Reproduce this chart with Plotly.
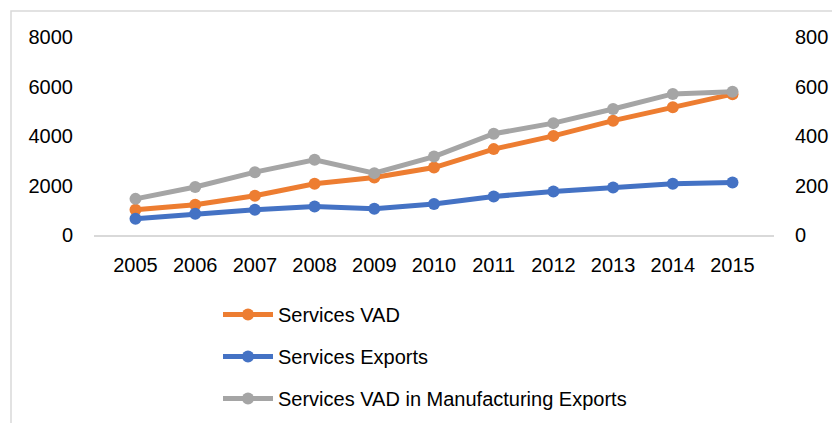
import plotly.graph_objects as go

years = ["2005", "2006", "2007", "2008", "2009", "2010", "2011", "2012", "2013", "2014", "2015"]
services_vad = [1020, 1220, 1585, 2070, 2320, 2725, 3470, 4005, 4620, 5160, 5690]
services_exports = [660, 860, 1020, 1150, 1060, 1250, 1555, 1760, 1920, 2070, 2120]
services_vad_mfg_exports = [146, 194, 254, 304, 250, 317, 409, 452, 509, 570, 579]

left_ticks = [0, 2000, 4000, 6000, 8000]
right_ticks = [0, 200, 400, 600, 800]

ORANGE = "#ED7D31"
BLUE = "#4472C4"
GREY = "#A5A5A5"
FONT = dict(family="Liberation Sans, Arial, sans-serif", size=20, color="#000000")

fig = go.Figure()
fig.add_trace(go.Scatter(
    x=years, y=services_vad, name="Services VAD", mode="lines+markers",
    line=dict(color=ORANGE, width=5), marker=dict(size=12, color=ORANGE),
    legendgroup="a", yaxis="y"))
fig.add_trace(go.Scatter(
    x=years, y=services_exports, name="Services Exports", mode="lines+markers",
    line=dict(color=BLUE, width=5), marker=dict(size=12, color=BLUE),
    legendgroup="b", yaxis="y"))
fig.add_trace(go.Scatter(
    x=years, y=services_vad_mfg_exports, name="Services VAD in Manufacturing Exports",
    mode="lines+markers",
    line=dict(color=GREY, width=5), marker=dict(size=12, color=GREY),
    legendgroup="c", yaxis="y2"))

W, H = 832, 423
L, R, T, B = 94, 58, 37, 188
PW, PH = W - L - R, H - T - B

fig.update_layout(
    width=W, height=H,
    margin=dict(l=L, r=R, t=T, b=B, autoexpand=False),
    paper_bgcolor="white", plot_bgcolor="white",
    font=FONT,
    showlegend=True,
    legend=dict(
        orientation="v", x=(218 - L) / PW, xanchor="left", y=1 - 295 / H, yanchor="top",
        xref="paper", yref="container",
        traceorder="grouped", tracegroupgap=13,
        font=FONT, bgcolor="rgba(0,0,0,0)", itemwidth=50,
    ),
    xaxis=dict(
        type="category", showgrid=False, showline=True, linecolor="#D9D9D9", linewidth=1.5,
        ticks="", ticklabelstandoff=11, tickfont=FONT, zeroline=False,
    ),
    yaxis=dict(
        range=[0, 8000], tickvals=left_ticks, showgrid=False, showline=False,
        zeroline=False, ticks="", ticklabelstandoff=20, tickfont=FONT,
    ),
    yaxis2=dict(
        range=[0, 800], tickvals=right_ticks, overlaying="y", side="right",
        showgrid=False, showline=False, zeroline=False, ticks="",
        ticklabelstandoff=20, tickfont=FONT,
    ),
    shapes=[dict(
        type="rect", xref="paper", yref="paper",
        x0=(11 - L) / PW, x1=1.2 + R / PW,
        y0=-1.5, y1=1 + (T - 11) / PH,
        line=dict(color="#D9D9D9", width=1.5), fillcolor="rgba(0,0,0,0)", layer="below",
    )],
)

fig.write_html("out.html")
